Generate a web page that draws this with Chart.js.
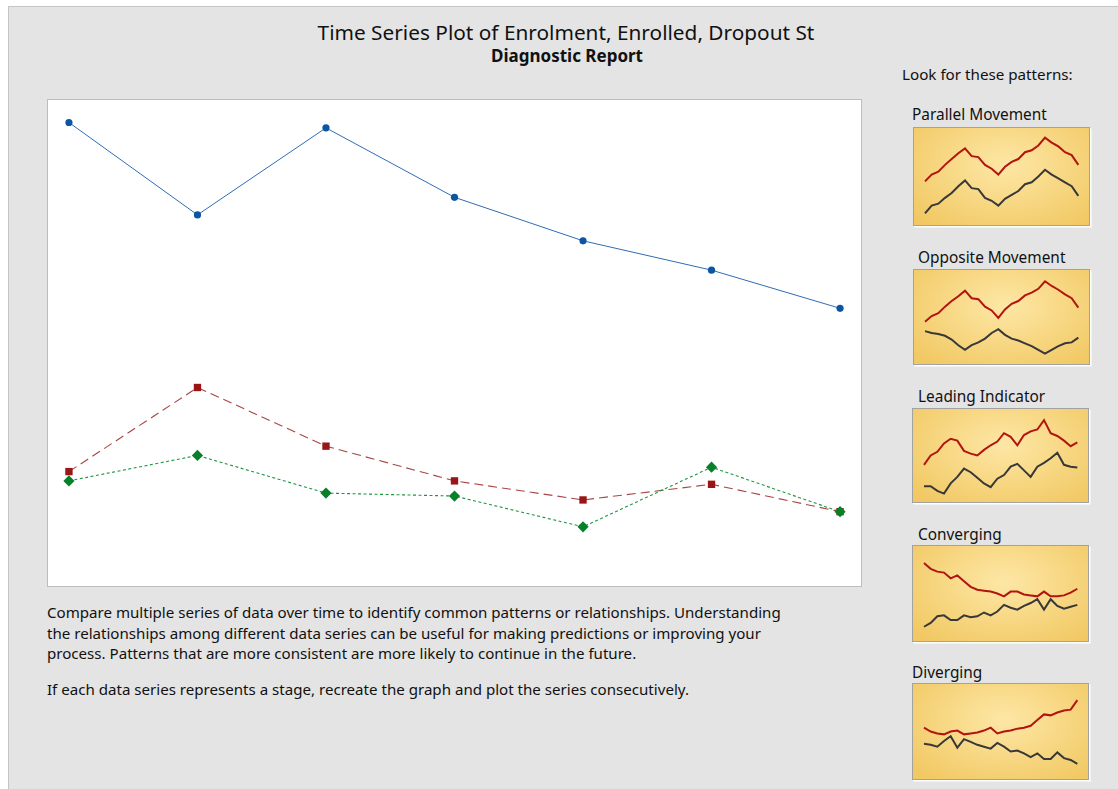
<!DOCTYPE html>
<html>
<head>
<meta charset="utf-8">
<script src="https://cdn.jsdelivr.net/npm/chart.js@4.4.0/dist/chart.umd.min.js"></script>
<style>
  html, body { margin: 0; padding: 0; background: #ffffff; }
  body { width: 1118px; height: 789px; position: relative; overflow: hidden; font-family: "Noto Sans", "Open Sans", sans-serif; color: #111; }
  #panel { position: absolute; left: 8px; top: 6px; width: 1120px; height: 800px; background: #e4e4e4; border: 1px solid #c4c4c4; }
  .abs { position: absolute; white-space: nowrap; }
  #title { left: 0; width: 1132px; text-align: center; top: 18px; font-size: 20.8px; }
  #subtitle { left: 0; width: 1134px; text-align: center; top: 44px; font-size: 17px; font-weight: bold; }
  #plotBox { left: 47px; top: 99px; width: 815px; height: 488px; background: #fff; border: 1px solid #bdbdbd; box-sizing: border-box; }
  #notes { left: 47px; top: 602px; font-size: 15.1px; line-height: 20.5px; }
  #notes2 { left: 47px; top: 679px; font-size: 15.1px; }
  #lookFor { left: 902px; top: 64px; font-size: 15.2px; }
  .thumbLabel { font-size: 15.4px; }
  .thumb { position: absolute; width: 177px; border: 1px solid #a2a2a2; box-sizing: border-box;
           box-shadow: 1px 1px 0 #ffffff, 2px 2px 0 #f2f2f2;
           background: radial-gradient(ellipse 70% 80% at 52% 38%, #fde7a6 0%, #f8d987 45%, #f1c862 100%); }
  .thumb canvas { position: absolute; left: 0; top: 0; }
</style>
</head>
<body>
<div id="panel"></div>
<div class="abs" id="title">Time Series Plot of Enrolment, Enrolled, Dropout St</div>
<div class="abs" id="subtitle">Diagnostic Report</div>
<div class="abs" id="lookFor">Look for these patterns:</div>

<div class="abs" id="plotBox"><canvas id="mainChart" width="813" height="486"></canvas></div>

<div class="abs" id="notes">Compare multiple series of data over time to identify common patterns or relationships. Understanding<br>the relationships among different data series can be useful for making predictions or improving your<br>process. Patterns that are more consistent are more likely to continue in the future.</div>
<div class="abs" id="notes2">If each data series represents a stage, recreate the graph and plot the series consecutively.</div>

<div id="thumbs"></div>

<script>
// main series (no axis shown in the report, values read on a 0-100 relative scale)
var stages = [1, 2, 3, 4, 5, 6, 7];
var enrolment = [95.0, 76.1, 93.9, 79.7, 70.8, 64.8, 57.0];
var enrolled = [23.6, 40.8, 28.8, 21.7, 17.8, 21.0, 15.4];
var dropout = [21.7, 26.9, 19.2, 18.6, 12.3, 24.5, 15.4];

// pattern thumbnails: red and black example series
var parallelRed = [45, 52, 55, 62, 68, 74, 79, 71, 70, 62, 58, 52, 60, 65, 68, 75, 77, 82, 90, 85, 81, 75, 72, 62];
var parallelBlack = [12, 20, 22, 28, 33, 40, 46, 38, 37, 28, 25, 20, 27, 31, 35, 42, 44, 50, 57, 52, 48, 44, 40, 30];
var oppositeRed = [45, 51, 54, 61, 67, 72, 78, 70, 69, 61, 57, 49, 58, 64, 67, 73, 76, 80, 88, 83, 79, 74, 70, 60];
var oppositeBlack = [35, 33, 32, 30, 26, 20, 15, 20, 23, 27, 33, 37, 31, 27, 25, 22, 19, 15, 11, 15, 19, 22, 23, 28];
var leadingRed = [40, 50, 54, 63, 68, 66, 55, 52, 50, 56, 61, 65, 74, 70, 61, 72, 76, 78, 88, 74, 71, 66, 60, 64];
var leadingBlack = [17, 17, 12, 9, 20, 27, 36, 32, 26, 20, 16, 25, 29, 38, 41, 34, 27, 38, 42, 47, 53, 40, 38, 37];
var convergingRed = [82, 76, 73, 72, 66, 69, 63, 57, 54, 53, 52, 50, 47, 52, 52, 49, 48, 47, 52, 47, 47, 48, 51, 55];
var convergingBlack = [15, 19, 26, 27, 22, 22, 27, 25, 26, 30, 27, 31, 38, 35, 33, 37, 40, 44, 33, 44, 37, 34, 36, 38];
var divergingRed = [54, 50, 48, 47, 50, 51, 47, 48, 49, 51, 54, 48, 50, 51, 53, 54, 56, 62, 68, 67, 70, 72, 73, 83];
var divergingBlack = [37, 36, 34, 40, 45, 33, 42, 39, 36, 34, 32, 38, 34, 29, 30, 27, 23, 27, 21, 21, 28, 22, 20, 16];

var patternNames = ["Parallel Movement", "Opposite Movement", "Leading Indicator", "Converging", "Diverging"];

function toPoints(xs, ys) {
    var pts = [];
    for (var i = 0; i < ys.length; i++) {
        pts.push({ x: xs[i], y: ys[i] });
    }
    return pts;
}

var mainConfig = {
    type: 'line',
    data: {
        datasets: [{
            label: 'Enrolment',
            data: toPoints(stages, enrolment),
            borderColor: '#2e6db4',
            backgroundColor: '#0b55a3',
            borderWidth: 1,
            pointStyle: 'circle',
            pointRadius: 3.6,
            pointBorderWidth: 0,
            order: 0
        }, {
            label: 'Enrolled',
            data: toPoints(stages, enrolled),
            borderColor: '#a84444',
            backgroundColor: '#9a1515',
            borderWidth: 1.1,
            borderDash: [9, 5],
            pointStyle: 'rect',
            pointRadius: 5.2,
            pointBorderWidth: 0,
            order: 2
        }, {
            label: 'Dropout St',
            data: toPoints(stages, dropout),
            borderColor: '#1f9540',
            backgroundColor: '#07802a',
            borderWidth: 1.1,
            borderDash: [3, 2.5],
            pointStyle: 'rectRot',
            pointRadius: 5.6,
            pointBorderWidth: 0,
            order: 1
        }]
    },
    options: {
        responsive: false,
        animation: false,
        events: [],
        layout: { padding: 0, autoPadding: false },
        plugins: { legend: { display: false }, tooltip: { enabled: false }, title: { display: false } },
        scales: {
            x: { type: 'linear', min: 0.837, max: 7.163, display: false },
            y: { type: 'linear', min: 0.2, max: 99.6, display: false }
        }
    }
};
new Chart(document.getElementById('mainChart').getContext('2d'), mainConfig);

// thumbnails
var thumbSeries = [
    [parallelRed, parallelBlack],
    [oppositeRed, oppositeBlack],
    [leadingRed, leadingBlack],
    [convergingRed, convergingBlack],
    [divergingRed, divergingBlack]
];
var thumbLayout = [
    { left: 913, top: 127, h: 99, labelLeft: 912, labelTop: 104 },
    { left: 913, top: 269, h: 96, labelLeft: 918, labelTop: 247 },
    { left: 912, top: 408, h: 95, labelLeft: 918, labelTop: 386 },
    { left: 912, top: 545, h: 97, labelLeft: 918, labelTop: 524 },
    { left: 912, top: 683, h: 97, labelLeft: 912, labelTop: 662 }
];

var holder = document.getElementById('thumbs');
for (var t = 0; t < patternNames.length; t++) {
    var lay = thumbLayout[t];
    var label = document.createElement('div');
    label.className = 'abs thumbLabel';
    label.style.left = lay.labelLeft + 'px';
    label.style.top = lay.labelTop + 'px';
    label.textContent = patternNames[t];
    holder.appendChild(label);

    var box = document.createElement('div');
    box.className = 'thumb';
    box.style.left = lay.left + 'px';
    box.style.top = lay.top + 'px';
    box.style.height = lay.h + 'px';
    var cv = document.createElement('canvas');
    cv.width = 175;
    cv.height = lay.h - 2;
    box.appendChild(cv);
    holder.appendChild(box);

    var idx = [];
    for (var k = 0; k < thumbSeries[t][0].length; k++) idx.push(k);

    new Chart(cv.getContext('2d'), {
        type: 'line',
        data: {
            datasets: [{
                data: toPoints(idx, thumbSeries[t][0]),
                borderColor: '#b3140f',
                borderWidth: 2,
                pointRadius: 0
            }, {
                data: toPoints(idx, thumbSeries[t][1]),
                borderColor: '#383838',
                borderWidth: 2,
                pointRadius: 0
            }]
        },
        options: {
            responsive: false,
            animation: false,
            events: [],
            layout: { padding: 0, autoPadding: false },
            plugins: { legend: { display: false }, tooltip: { enabled: false } },
            scales: {
                x: { type: 'linear', min: -1.65, max: 24.6, display: false },
                y: { type: 'linear', min: 0, max: 100, display: false }
            }
        }
    });
}
</script>
</body>
</html>
